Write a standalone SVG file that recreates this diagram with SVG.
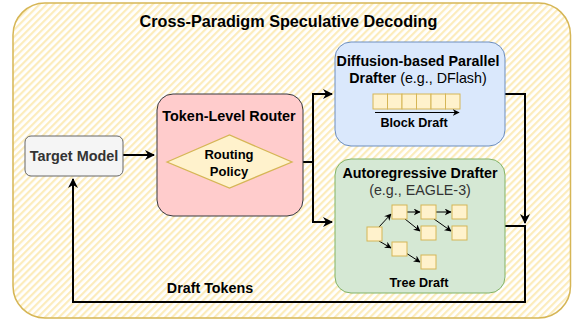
<svg xmlns="http://www.w3.org/2000/svg" width="573" height="320" viewBox="0 0 573 320">
<style>
text{font-family:"Liberation Sans",Arial,sans-serif;fill:#000}
.b{font-weight:bold}
.cell{fill:#fff2cc;stroke:#d6b656;stroke-width:1}
.ln{fill:none;stroke:#000;stroke-width:2}
.tl{fill:none;stroke:#000;stroke-width:1}
</style>
<defs>
<pattern id="hatch" width="5" height="5" patternUnits="userSpaceOnUse" patternTransform="rotate(45)">
<rect width="5" height="5" fill="#ffffff"/>
<rect x="0" y="0" width="2.2" height="5" fill="#fcecbc"/>
</pattern>
<marker id="ah" viewBox="0 0 10 10" refX="9" refY="5" markerWidth="5" markerHeight="5" orient="auto" markerUnits="strokeWidth">
<path d="M0,0 L10,5 L0,10 L3,5 Z" fill="#000"/>
</marker>
<marker id="as" viewBox="0 0 10 10" refX="9" refY="5" markerWidth="7" markerHeight="7" orient="auto" markerUnits="strokeWidth">
<path d="M0,0 L10,5 L0,10 L3,5 Z" fill="#000"/>
</marker>
</defs>
<g id="container">
<rect x="13" y="3" width="557.5" height="315" rx="32" fill="url(#hatch)" stroke="#d6b656" stroke-width="1.5"/>
<text class="b" x="288.5" y="27" font-size="16.2" text-anchor="middle">Cross-Paradigm Speculative Decoding</text>
</g>
<g id="connectors">
<path class="ln" d="M123,155 H154" marker-end="url(#ah)"/>
<path class="ln" d="M292,162 H313 V94 H332" marker-end="url(#ah)"/>
<path class="ln" d="M313,162 V222 H332" marker-end="url(#ah)"/>
<path class="ln" d="M505,94 H525 V223" marker-end="url(#ah)"/>
<path class="ln" d="M505,226 H525 V302 H73 V179" marker-end="url(#ah)"/>
<text class="b" x="210" y="293" font-size="14.3" text-anchor="middle">Draft Tokens</text>
</g>
<g id="target-model">
<rect x="25" y="136" width="98" height="40" rx="6" fill="#f5f5f5" stroke="#666666" stroke-width="1"/>
<text class="b" x="74" y="161" font-size="14.4" text-anchor="middle" style="fill:#333333">Target Model</text>
</g>
<g id="router">
<rect x="157" y="94" width="146" height="122" rx="16" fill="#ffcccc" stroke="#36393d" stroke-width="1"/>
<text class="b" x="229" y="121" font-size="14.4" text-anchor="middle">Token-Level Router</text>
</g>
<g id="routing-policy">
<path d="M167,162 L229.5,135 L292,162 L229.5,188 Z" fill="#fff2cc" stroke="#d6b656" stroke-width="1.3"/>
<text class="b" x="229" y="159" font-size="13" text-anchor="middle">Routing</text>
<text class="b" x="229" y="176" font-size="13" text-anchor="middle">Policy</text>
</g>
<g id="diffusion-drafter">
<rect x="335" y="42" width="170" height="104" rx="16" fill="#dae8fc" stroke="#6c8ebf" stroke-width="1"/>
<text class="b" x="418" y="66" font-size="14.3" text-anchor="middle">Diffusion-based Parallel</text>
<text x="418" y="83" font-size="14.3" text-anchor="middle"><tspan class="b">Drafter</tspan> (e.g., DFlash)</text>
<rect class="cell" x="373" y="94" width="14.5" height="15"/>
<rect class="cell" x="387.5" y="94" width="14.5" height="15"/>
<rect class="cell" x="402" y="94" width="14.5" height="15"/>
<rect class="cell" x="416.5" y="94" width="14.5" height="15"/>
<rect class="cell" x="431" y="94" width="14.5" height="15"/>
<rect class="cell" x="445.5" y="94" width="14.5" height="15"/>
<path class="tl" d="M375,112.5 H459" marker-end="url(#as)"/>
<text class="b" x="414" y="127" font-size="12.6" text-anchor="middle">Block Draft</text>
</g>
<g id="autoregressive-drafter">
<rect x="335" y="159" width="170" height="134" rx="16" fill="#d5e8d4" stroke="#82b366" stroke-width="1"/>
<text class="b" x="420" y="178" font-size="14.3" text-anchor="middle">Autoregressive Drafter</text>
<text x="420" y="195" font-size="14.3" text-anchor="middle" style="fill:#333333">(e.g., EAGLE-3)</text>
<path class="tl" d="M379,227 L391,214" marker-end="url(#as)"/>
<path class="tl" d="M379,241 L391,248" marker-end="url(#as)"/>
<path class="tl" d="M407,212 H420" marker-end="url(#as)"/>
<path class="tl" d="M405,219 L420,231" marker-end="url(#as)"/>
<path class="tl" d="M436,212 H451" marker-end="url(#as)"/>
<path class="tl" d="M434,219 L451,231" marker-end="url(#as)"/>
<path class="tl" d="M406,253 L420,262" marker-end="url(#as)"/>
<rect class="cell" x="367" y="227" width="15" height="14"/>
<rect class="cell" x="392" y="205" width="15" height="14"/>
<rect class="cell" x="392" y="242" width="15" height="14"/>
<rect class="cell" x="421" y="205" width="15" height="14"/>
<rect class="cell" x="421" y="226" width="15" height="14"/>
<rect class="cell" x="421" y="255" width="15" height="14"/>
<rect class="cell" x="452" y="205" width="15" height="14"/>
<rect class="cell" x="452" y="226" width="15" height="14"/>
<text class="b" x="419" y="287" font-size="12.6" text-anchor="middle">Tree Draft</text>
</g>
</svg>
